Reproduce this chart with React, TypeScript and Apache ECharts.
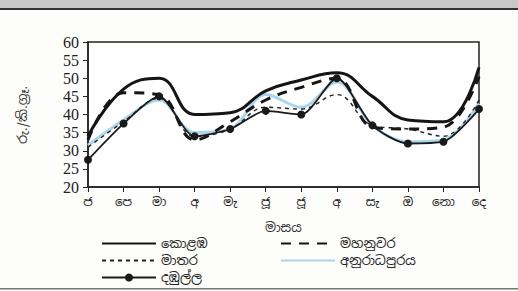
import React, { useEffect, useRef } from "react";
import * as echarts from "echarts";

const months = ["ජ", "පෙ", "මා", "අ", "මැ", "ජූ", "ජූ", "අ", "සැ", "ඔ", "නො", "දෙ"];
const colombo = [34, 47, 50, 40, 40.5, 46.5, 49.5, 51.5, 45, 38.5, 38, 53];
const kandy = [33, 46, 45.5, 33, 38, 44, 47.5, 50, 36.5, 36, 36.5, 50.5];
const matara = [31, 38, 44.5, 34, 36, 42, 41.5, 45.5, 37, 36, 34, 44];
const anuradhapura = [31.5, 38.5, 44, 35, 36, 45.5, 42, 49, 37, 32.5, 33, 43];
const dambulla = [27.5, 37.5, 45, 34, 36, 41, 40, 50, 37, 32, 32.5, 41.5];
const names = ["කොළඹ", "මහනුවර", "මාතර", "අනුරාධපුරය", "දඹුල්ල"];
const xName = "මාසය";
const yName = "රු./කි.ග්‍රෑ.";

const SIN = "'Noto Sans Sinhala', 'Noto Sans', sans-serif";
const SERIF = "'Liberation Serif', 'DejaVu Serif', serif";

export default function App() {
  const ref = useRef<HTMLDivElement>(null);
  useEffect(() => {
    if (!ref.current) return;
    const chart = echarts.init(ref.current, undefined, { renderer: "svg" });
    const legendText = { fontFamily: SIN, fontSize: 13, color: "#222" };
    const mkLegend = (name: string, left: number, top: number, marker: boolean) => ({
      data: [marker ? { name } : { name, itemStyle: { opacity: 0 } }],
      left,
      top,
      itemWidth: 54,
      itemHeight: 10,
      itemGap: 10,
      textStyle: legendText,
      selectedMode: false,
    });
    chart.setOption({
      animation: false,
      backgroundColor: "#fdfdfb",
      grid: { left: 88, right: 39, top: 42, bottom: 104, show: true, borderColor: "#222", borderWidth: 1.5, backgroundColor: "#fff" },
      legend: [
        mkLegend(names[0], 96, 232, false),
        mkLegend(names[1], 275, 232, false),
        mkLegend(names[2], 96, 249, false),
        mkLegend(names[3], 275, 249, false),
        mkLegend(names[4], 96, 266, true),
      ],
      graphic: [
        { type: "rect", shape: { x: 0, y: 0, width: 518, height: 9 }, style: { fill: "#c9c9c9" }, silent: true },
        { type: "rect", shape: { x: 0, y: 8, width: 518, height: 2 }, style: { fill: "#333" }, silent: true },
        { type: "rect", shape: { x: 0, y: 288, width: 518, height: 1.5 }, style: { fill: "#777" }, silent: true },
        {
          type: "text",
          x: 22,
          y: 115,
          rotation: Math.PI / 2,
          style: { text: yName, fontFamily: SIN, fontSize: 13, fill: "#333", align: "center", verticalAlign: "middle" },
        },
      ],
      xAxis: {
        type: "category",
        data: months,
        boundaryGap: false,
        name: xName,
        nameLocation: "middle",
        nameGap: 34,
        nameTextStyle: { fontFamily: SIN, fontSize: 13, color: "#333" },
        axisLine: { lineStyle: { color: "#222", width: 1.5 } },
        axisTick: { show: true, length: 5, lineStyle: { color: "#222" } },
        axisLabel: { fontFamily: SIN, fontSize: 12, color: "#222", margin: 9 },
        splitLine: { show: false },
      },
      yAxis: {
        type: "value",
        min: 20,
        max: 60,
        interval: 5,
        axisLine: { show: true, lineStyle: { color: "#222", width: 1.5 } },
        axisTick: { show: true, length: 5, lineStyle: { color: "#222" } },
        axisLabel: { fontFamily: SERIF, fontSize: 16, color: "#222", margin: 9 },
        splitLine: { show: false },
      },
      series: [
        {
          name: names[3],
          type: "line",
          data: anuradhapura,
          smooth: 0.35,
          symbol: "none",
          lineStyle: { color: "#a9d6ee", width: 3 },
          itemStyle: { color: "#a9d6ee" },
          z: 1,
        },
        {
          name: names[0],
          type: "line",
          data: colombo,
          smooth: 0.45,
          symbol: "none",
          lineStyle: { color: "#151515", width: 3 },
          itemStyle: { color: "#151515" },
          z: 3,
        },
        {
          name: names[1],
          type: "line",
          data: kandy,
          smooth: 0.4,
          symbol: "none",
          lineStyle: { color: "#151515", width: 3, type: [10, 8] },
          itemStyle: { color: "#151515" },
          z: 3,
        },
        {
          name: names[2],
          type: "line",
          data: matara,
          smooth: 0.4,
          symbol: "none",
          lineStyle: { color: "#222", width: 1.4, type: [4, 4] },
          itemStyle: { color: "#222" },
          z: 3,
        },
        {
          name: names[4],
          type: "line",
          data: dambulla,
          smooth: 0.25,
          symbol: "circle",
          symbolSize: 8,
          showSymbol: true,
          lineStyle: { color: "#1a1a1a", width: 1.8 },
          itemStyle: { color: "#1a1a1a" },
          z: 4,
        },
      ],
    });
    return () => chart.dispose();
  }, []);
  return <div ref={ref} style={{ position: "fixed", left: 0, top: 0, width: 518, height: 291 }} />;
}
